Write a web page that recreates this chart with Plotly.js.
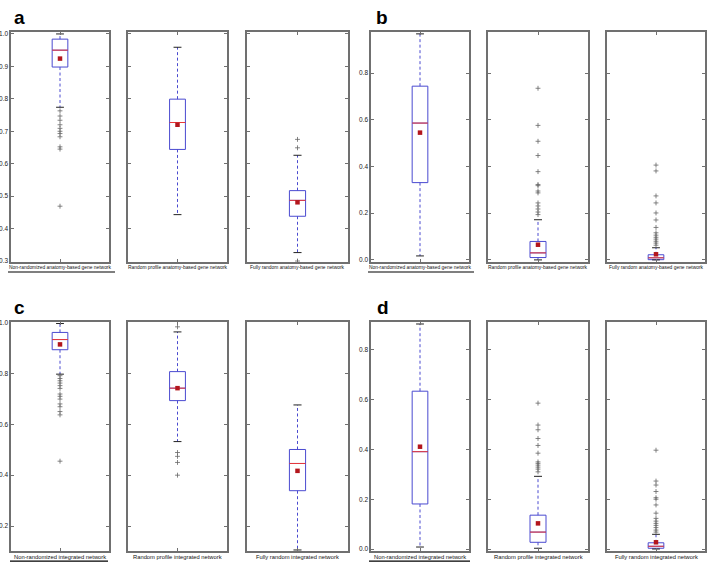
<!DOCTYPE html>
<html>
<head>
<meta charset="utf-8">
<script src="https://cdn.plot.ly/plotly-3.0.1.min.js"></script>
<style>html,body{margin:0;padding:0;background:#fff;}#chart{width:707px;height:563px;}</style>
</head>
<body>
<div id="chart"></div>
<script>
// ---------------- DATA ----------------
const panelLetters = ['a', 'b', 'c', 'd'];
const labelsAnatomy = ['Non-randomized anatomy-based gene network', 'Random profile anatomy-based gene network', 'Fully random anatomy-based gene network'];
const labelsIntegrated = ['Non-randomized integrated network', 'Random profile integrated network', 'Fully random integrated network'];

// panel a
const aLower = [0.774, 0.443, 0.326];
const aQ1 = [0.898, 0.644, 0.438];
const aMedian = [0.950, 0.727, 0.487];
const aQ3 = [0.984, 0.799, 0.517];
const aUpper = [1.000, 0.959, 0.626];
const aMean = [0.924, 0.720, 0.481];
const aOutliers = [
  [0.763, 0.747, 0.734, 0.720, 0.709, 0.700, 0.693, 0.683, 0.652, 0.645, 0.469],
  [],
  [0.675, 0.649, 0.300]
];
// panel b
const bLower = [0.017, 0.000, 0.000];
const bQ1 = [0.331, 0.010, 0.001];
const bMedian = [0.586, 0.030, 0.009];
const bQ3 = [0.744, 0.079, 0.022];
const bUpper = [0.968, 0.172, 0.052];
const bMean = [0.545, 0.065, 0.024];
const bOutliers = [
  [],
  [0.735, 0.576, 0.508, 0.447, 0.378, 0.323, 0.318, 0.295, 0.287, 0.244, 0.231, 0.218, 0.205, 0.194],
  [0.406, 0.381, 0.274, 0.244, 0.201, 0.171, 0.139, 0.116, 0.106, 0.097, 0.089, 0.080, 0.072, 0.063]
];
// panel c
const cLower = [0.797, 0.532, 0.106];
const cQ1 = [0.893, 0.693, 0.339];
const cMedian = [0.933, 0.742, 0.446];
const cQ3 = [0.961, 0.807, 0.501];
const cUpper = [0.996, 0.963, 0.676];
const cMean = [0.914, 0.742, 0.417];
const cOutliers = [
  [0.791, 0.780, 0.771, 0.762, 0.752, 0.741, 0.719, 0.710, 0.699, 0.680, 0.669, 0.650, 0.637, 0.455],
  [0.983, 0.489, 0.474, 0.450, 0.400],
  []
];
// panel d
const dLower = [0.008, 0.003, 0.000];
const dQ1 = [0.181, 0.027, 0.003];
const dMedian = [0.391, 0.068, 0.011];
const dQ3 = [0.634, 0.136, 0.025];
const dUpper = [0.904, 0.292, 0.059];
const dMean = [0.411, 0.103, 0.027];
const dOutliers = [
  [],
  [0.586, 0.498, 0.479, 0.444, 0.416, 0.385, 0.350, 0.344, 0.337, 0.329, 0.321, 0.310],
  [0.397, 0.273, 0.257, 0.231, 0.206, 0.200, 0.177, 0.144, 0.123, 0.112, 0.103, 0.095, 0.086, 0.076, 0.068]
];

// y tick labels / ranges per panel
const aTicks = [0.3, 0.4, 0.5, 0.6, 0.7, 0.8, 0.9, 1.0];
const bTicks = [0.0, 0.2, 0.4, 0.6, 0.8];
const cTicks = [0.2, 0.4, 0.6, 0.8, 1.0];
const dTicks = [0.0, 0.2, 0.4, 0.6, 0.8];
const aRange = [0.297, 1.006];
const bRange = [-0.009, 0.976];
const cRange = [0.102, 1.002];
const dRange = [-0.008, 0.912];

// ---------------- LAYOUT / STYLE ----------------
const W = 707, H = 563;
const colsLeft = [[11, 109], [128, 227], [247, 348]];
const colsRight = [[371, 469], [488, 588], [607, 705]];
const rowTop = [32, 262];
const rowBottom = [322, 551];

const panels = [
  {letter: panelLetters[0], labels: labelsAnatomy, lo: aLower, q1: aQ1, med: aMedian, q3: aQ3, up: aUpper, mean: aMean, out: aOutliers, ticks: aTicks, range: aRange, cols: colsLeft, row: rowTop, font: 4.9, labelY: 267.5, letterPos: [12, 17.6], uline: [8, 115, 271.4, 272.6]},
  {letter: panelLetters[1], labels: labelsAnatomy, lo: bLower, q1: bQ1, med: bMedian, q3: bQ3, up: bUpper, mean: bMean, out: bOutliers, ticks: bTicks, range: bRange, cols: colsRight, row: rowTop, font: 4.9, labelY: 267.5, letterPos: [374, 17.6], uline: [368, 474, 271.4, 272.6]},
  {letter: panelLetters[2], labels: labelsIntegrated, lo: cLower, q1: cQ1, med: cMedian, q3: cQ3, up: cUpper, mean: cMean, out: cOutliers, ticks: cTicks, range: cRange, cols: colsLeft, row: rowBottom, font: 5.8, labelY: 556.5, letterPos: [12, 307.6], uline: [10, 108, 560.6, 561.8]},
  {letter: panelLetters[3], labels: labelsIntegrated, lo: dLower, q1: dQ1, med: dMedian, q3: dQ3, up: dUpper, mean: dMean, out: dOutliers, ticks: dTicks, range: dRange, cols: colsRight, row: rowBottom, font: 5.8, labelY: 556.5, letterPos: [375, 307.6], uline: [369, 470, 560.6, 561.8]}
];

const BLUE = '#4a4ad0';
const RED = '#e8383a';
const MEANC = '#b3161c';
const FRAME = '#707070';
const BOXW = 0.16;
const CAPW = 0.08;
const FONT = 'Liberation Sans, Arial, sans-serif';

const traces = [];
const layout = {
  width: W, height: H,
  margin: {l: 0, r: 0, t: 0, b: 0},
  paper_bgcolor: '#fff', plot_bgcolor: '#fff',
  showlegend: false,
  font: {family: FONT, color: '#222'},
  annotations: [], shapes: []
};

let k = 0;
panels.forEach((p) => {
  for (let j = 0; j < 3; j++) {
    k++;
    const xa = 'x' + (k === 1 ? '' : k), ya = 'y' + (k === 1 ? '' : k);
    const xk = 'xaxis' + (k === 1 ? '' : k), yk = 'yaxis' + (k === 1 ? '' : k);
    const c = p.cols[j];
    layout[xk] = {
      domain: [c[0] / W, c[1] / W], anchor: ya,
      range: [-0.5, 0.5], tickvals: [0], showticklabels: false,
      ticks: 'inside', ticklen: 3, tickcolor: FRAME, tickwidth: 1,
      showline: true, mirror: 'ticks', linecolor: FRAME, linewidth: 1.6,
      showgrid: false, zeroline: false, fixedrange: true
    };
    layout[yk] = {
      domain: [1 - p.row[1] / H, 1 - p.row[0] / H], anchor: xa,
      range: p.range, tickvals: p.ticks, tickformat: '.1f',
      ticks: 'inside', ticklen: 3, tickcolor: FRAME, tickwidth: 1,
      showline: true, mirror: 'ticks', linecolor: FRAME, linewidth: 1.6,
      showgrid: false, zeroline: false, fixedrange: true,
      showticklabels: j === 0, tickfont: {size: 6.5, color: '#222'}
    };
    // category label under each subplot
    layout.annotations.push({
      xref: xa, yref: 'paper', x: 0, y: 1 - p.labelY / H,
      xanchor: 'center', yanchor: 'middle', showarrow: false,
      text: p.labels[j], font: {size: p.font, color: '#111', family: FONT}
    });
    // box (whiskers drawn separately as dashed lines)
    traces.push({
      type: 'box', x: [0], xaxis: xa, yaxis: ya,
      q1: [p.q1[j]], median: [p.med[j]], q3: [p.q3[j]],
      lowerfence: [p.q1[j]], upperfence: [p.q3[j]],
      width: BOXW, whiskerwidth: 0, boxpoints: false,
      line: {color: BLUE, width: 1}, fillcolor: 'rgba(255,255,255,0)', hoverinfo: 'skip'
    });
    // dashed whiskers
    traces.push({type: 'scatter', mode: 'lines', xaxis: xa, yaxis: ya, x: [0, 0, null, 0, 0],
      y: [p.q3[j], p.up[j], null, p.q1[j], p.lo[j]],
      line: {color: BLUE, width: 1, dash: '3px,2.5px'}, hoverinfo: 'skip'});
    // caps
    traces.push({type: 'scatter', mode: 'lines', xaxis: xa, yaxis: ya,
      x: [-CAPW / 2, CAPW / 2, null, -CAPW / 2, CAPW / 2],
      y: [p.up[j], p.up[j], null, p.lo[j], p.lo[j]],
      line: {color: '#222', width: 1}, hoverinfo: 'skip'});
    // median (red)
    traces.push({type: 'scatter', mode: 'lines', xaxis: xa, yaxis: ya,
      x: [-BOXW / 2, BOXW / 2], y: [p.med[j], p.med[j]],
      line: {color: RED, width: 1}, hoverinfo: 'skip'});
    // outliers
    if (p.out[j].length) {
      traces.push({type: 'scatter', mode: 'markers', xaxis: xa, yaxis: ya,
        x: p.out[j].map(() => 0), y: p.out[j],
        marker: {symbol: 'cross-thin', size: 3.5, line: {color: '#666', width: 0.8}}, hoverinfo: 'skip'});
    }
    // mean
    traces.push({type: 'scatter', mode: 'markers', xaxis: xa, yaxis: ya,
      x: [0], y: [p.mean[j]],
      marker: {symbol: 'square', size: 4.5, color: MEANC}, hoverinfo: 'skip'});
  }
  layout.annotations.push({
    xref: 'paper', yref: 'paper', x: p.letterPos[0] / W, y: 1 - p.letterPos[1] / H,
    xanchor: 'left', yanchor: 'middle', showarrow: false,
    text: '<b>' + p.letter + '</b>', font: {size: 19, color: '#000', family: FONT}
  });
  // underline under the first label of each panel (thin filled rectangle)
  layout.shapes.push({type: 'rect', xref: 'paper', yref: 'paper', layer: 'above',
    x0: p.uline[0] / W, x1: p.uline[1] / W, y0: 1 - p.uline[3] / H, y1: 1 - p.uline[2] / H,
    fillcolor: '#000', line: {width: 0}});
});

Plotly.newPlot('chart', traces, layout, {displayModeBar: false, staticPlot: true});
</script>
</body>
</html>
